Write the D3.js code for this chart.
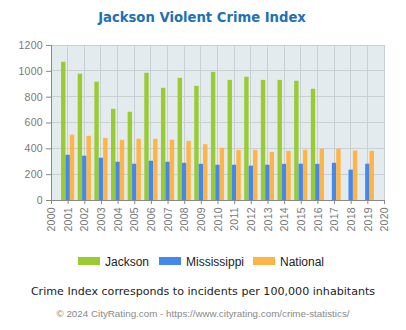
<!DOCTYPE html>
<html><head><meta charset="utf-8">
<script src="https://cdn.jsdelivr.net/npm/d3@7"></script>
<style>body{margin:0;background:#fff;}svg{display:block;}</style>
</head><body>
<script>
const years = [2001,2002,2003,2004,2005,2006,2007,2008,2009,2010,2011,2012,2013,2014,2015,2016,2017,2018,2019];
const jackson = [1070,978,916,706,683,985,869,946,884,992,930,954,930,930,923,861,null,null,null];
const mississippi = [350,343,327,296,281,304,296,288,280,273,273,266,273,280,281,280,288,235,281];
const national = [506,497,481,466,474,474,467,458,432,404,387,388,372,381,389,397,396,383,381];
const seriesNames = ["Jackson","Mississippi","National"];
const colors = ["#99cc33","#4488ee","#ffb444"];
const yTicks = [0,200,400,600,800,1000,1200];
const xTickYears = d3.range(2000,2021);

const W=406,H=330;
const svg=d3.select("body").append("svg").attr("width",W).attr("height",H);

svg.append("text").attr("x",202).attr("y",22).attr("text-anchor","middle")
  .attr("font-family","DejaVu Sans, Verdana, sans-serif").attr("font-weight","bold")
  .attr("font-size","13.2px").attr("fill","#1f70b5").text("Jackson Violent Crime Index");

const x=d3.scaleLinear().domain([2000,2020]).range([51,384]);
const y=d3.scaleLinear().domain([0,1200]).range([200,45]);

svg.append("rect").attr("x",x(2000)).attr("y",y(1200)).attr("width",x(2020)-x(2000)).attr("height",y(0)-y(1200)).attr("fill","#e3ebee");

const g=svg.append("g");
g.selectAll("line.h").data(yTicks).join("line").attr("x1",x(2000)).attr("x2",x(2020))
  .attr("y1",d=>y(d)).attr("y2",d=>y(d)).attr("stroke","#c8d0d3").attr("stroke-width",1).attr("shape-rendering","crispEdges");
g.selectAll("line.v").data(xTickYears).join("line").attr("y1",y(0)).attr("y2",y(1200))
  .attr("x1",d=>x(d)).attr("x2",d=>x(d)).attr("stroke","#c8d0d3").attr("stroke-width",1).attr("shape-rendering","crispEdges");

const bw=4.4;
const data=[jackson,mississippi,national];
data.forEach((arr,si)=>{
  svg.append("g").selectAll("rect").data(years.map((yr,i)=>({yr,v:arr[i]})).filter(d=>d.v!=null))
    .join("rect").attr("x",d=>x(d.yr)+(si-1.5)*bw).attr("width",bw)
    .attr("y",d=>y(d.v)).attr("height",d=>y(0)-y(d.v)).attr("fill",colors[si]);
});

const ya=svg.append("g").attr("transform",`translate(${x(2000)},0)`)
  .call(d3.axisLeft(y).tickValues(yTicks).tickSize(5).tickPadding(3).tickFormat(d3.format("d")));
const xa=svg.append("g").attr("transform",`translate(0,${y(0)})`)
  .call(d3.axisBottom(x).tickValues(xTickYears).tickSize(4).tickFormat(d3.format("d")));
[ya,xa].forEach(a=>{
  a.select(".domain").attr("stroke","#888");
  a.selectAll(".tick line").attr("stroke","#888");
  a.selectAll("text").attr("fill","#777").attr("font-family","Liberation Sans, Arial, sans-serif")
    .attr("font-size","10.5px").attr("letter-spacing","0.3px");
});
xa.selectAll("text").attr("transform","rotate(-90)").attr("text-anchor","end")
  .attr("x",-7).attr("y",0).attr("dy","0.35em");

const leg=svg.append("g");
const legX=[78,159,253];
seriesNames.forEach((n,i)=>{
  leg.append("rect").attr("x",legX[i]).attr("y",257).attr("width",22).attr("height",8).attr("fill",colors[i]);
  leg.append("text").attr("x",legX[i]+27).attr("y",265.5).attr("font-family","Liberation Sans, Arial, sans-serif")
    .attr("font-size","12px").attr("fill","#222").text(n);
});

svg.append("text").attr("x",203).attr("y",295).attr("text-anchor","middle")
  .attr("font-family","DejaVu Sans, Verdana, sans-serif").attr("font-size","11.1px").attr("fill","#222")
  .text("Crime Index corresponds to incidents per 100,000 inhabitants");
svg.append("text").attr("x",203).attr("y",317).attr("text-anchor","middle")
  .attr("font-family","Liberation Sans, Arial, sans-serif").attr("font-size","9.8px").attr("fill","#888")
  .text("© 2024 CityRating.com - https://www.cityrating.com/crime-statistics/");
</script>
</body></html>
